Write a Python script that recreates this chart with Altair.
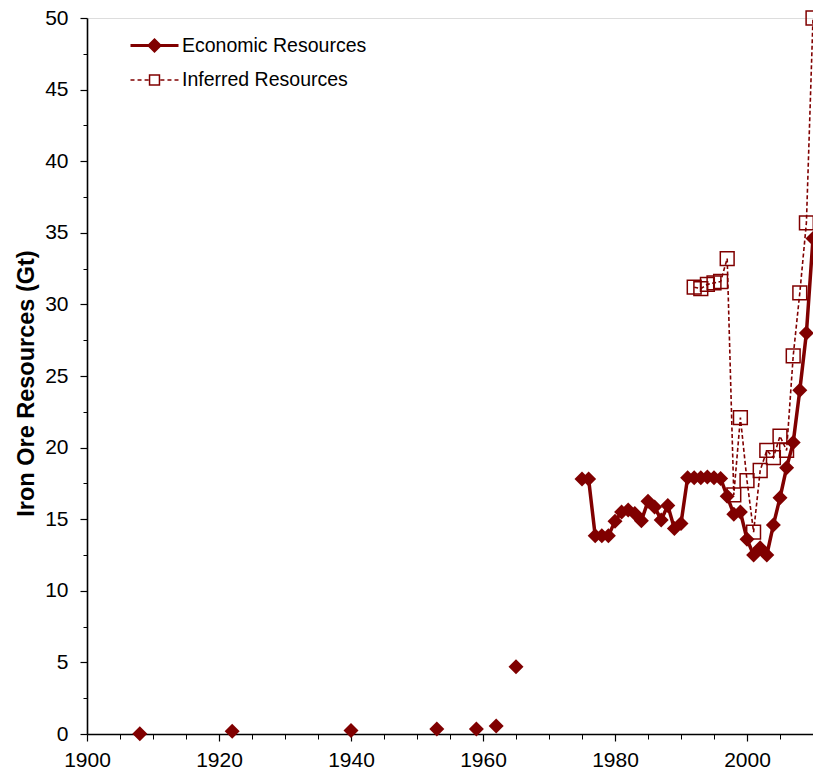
import altair as alt
import pandas as pd

# Economic resources (Gt)
econ_years = [1908, 1922, 1940, 1953, 1959, 1962, 1965,
              1975, 1976, 1977, 1978, 1979, 1980, 1981, 1982, 1983, 1984,
              1985, 1986, 1987, 1988, 1989, 1990, 1991, 1992, 1993, 1994,
              1995, 1996, 1997, 1998, 1999, 2000, 2001, 2002, 2003, 2004,
              2005, 2006, 2007, 2008, 2009, 2010]
econ_values = [0.02, 0.2, 0.25, 0.35, 0.35, 0.55, 4.7,
               17.8, 17.8, 13.85, 13.85, 13.85, 14.85, 15.5, 15.65, 15.4, 14.9,
               16.25, 15.85, 14.95, 15.95, 14.35, 14.7, 17.9, 17.9, 17.9, 17.95,
               17.9, 17.85, 16.6, 15.35, 15.5, 13.6, 12.5, 13.0, 12.5, 14.6,
               16.5, 18.6, 20.35, 24.0, 28.0, 34.6]

# Inferred resources (Gt)
inf_years = [1992, 1993, 1994, 1995, 1996, 1997, 1998, 1999, 2000, 2001,
             2002, 2003, 2004, 2005, 2006, 2007, 2008, 2009, 2010]
inf_values = [31.2, 31.1, 31.4, 31.5, 31.6, 33.2, 16.7, 22.1, 17.7, 14.1,
              18.4, 19.8, 19.3, 20.8, 19.8, 26.4, 30.8, 35.7, 50.0]

series_names = ["Economic Resources", "Inferred Resources"]

x_major = [1900, 1920, 1940, 1960, 1980, 2000]
x_minor = list(range(1905, 2011, 5))
y_major = [0, 5, 10, 15, 20, 25, 30, 35, 40, 45, 50]
y_minor = [2.5 + 5 * i for i in range(10)]

RED = "#800000"
FONT = "Liberation Sans"

econ = pd.DataFrame({"year": econ_years, "value": econ_values})
inf = pd.DataFrame({"year": inf_years, "value": inf_values})
legend_df = pd.DataFrame({"series": series_names, "year": [1900, 1900], "value": [0, 0]})

xs = alt.Scale(domain=[1900, 2010], nice=False, zero=False)
ys = alt.Scale(domain=[0, 50], nice=False)

major_x_axis = alt.Axis(values=x_major, title=None, grid=False, tickSize=7, tickWidth=1.2,
                        tickColor="black", domainColor="black", domainWidth=1.6,
                        labelFontSize=21, labelFont=FONT, labelColor="black",
                        labelPadding=8, format="d", orient="bottom", labelFlush=False)
major_y_axis = alt.Axis(values=y_major, title="Iron Ore Resources (Gt)", grid=False,
                        tickSize=7, tickWidth=1.2, tickColor="black",
                        domainColor="black", domainWidth=1.6,
                        labelFontSize=21, labelFont=FONT, labelColor="black",
                        labelPadding=12, orient="left",
                        titleFont=FONT, titleFontSize=23.5, titleFontWeight="bold",
                        titleColor="black", titleAngle=270, titleX=-61, titleY=365,
                        titleAlign="center", titleBaseline="middle")
minor_x_axis = alt.Axis(values=x_minor, title=None, grid=False, labels=False, domain=False,
                        tickSize=5, tickWidth=1, tickColor="black", orient="bottom")
minor_y_axis = alt.Axis(values=y_minor, title=None, grid=False, labels=False, domain=False,
                        tickSize=4, tickWidth=1, tickColor="black", orient="left")

econ_line = alt.Chart(econ).transform_filter("datum.year >= 1975").mark_line(
    color=RED, strokeWidth=3.5
).encode(
    x=alt.X("year:Q", scale=xs, axis=major_x_axis),
    y=alt.Y("value:Q", scale=ys, axis=major_y_axis),
)

inf_line = alt.Chart(inf).mark_line(
    color=RED, strokeWidth=1.6, strokeDash=[4, 2.5]
).encode(
    x=alt.X("year:Q", scale=xs, axis=None),
    y=alt.Y("value:Q", scale=ys, axis=None),
)

econ_pts = alt.Chart(econ).mark_point(
    shape="diamond", filled=True, color=RED, size=225, opacity=1
).encode(
    x=alt.X("year:Q", scale=xs, axis=None),
    y=alt.Y("value:Q", scale=ys, axis=None),
)

inf_pts = alt.Chart(inf).mark_point(
    shape="square", filled=False, color=RED, size=190, strokeWidth=1.5, opacity=1
).encode(
    x=alt.X("year:Q", scale=xs, axis=None),
    y=alt.Y("value:Q", scale=ys, axis=None),
)

econ_sym = "M-1.5,0H1.5M0,-0.34L0.34,0L0,0.34L-0.34,0Z"
inf_sym = ("M-1.5,0H-1.25M-1.06,0H-0.81M-0.62,0H-0.37"
           "M0.37,0H0.62M0.81,0H1.06M1.25,0H1.5"
           "M-0.31,-0.31H0.31V0.31H-0.31Z")

legend_layer = alt.Chart(legend_df).transform_filter("false").mark_point(size=1024).encode(
    x=alt.X("year:Q", scale=xs, axis=minor_x_axis),
    y=alt.Y("value:Q", scale=ys, axis=minor_y_axis),
    color=alt.Color("series:N", scale=alt.Scale(domain=series_names, range=[RED, RED]),
                    legend=alt.Legend(title=None, orient="none", legendX=50, legendY=10,
                                      labelFontSize=19.5, labelFont=FONT, labelColor="black",
                                      labelOffset=10, labelLimit=0, symbolSize=1024,
                                      rowPadding=6, padding=0, symbolOpacity=1)),
    fill=alt.Fill("series:N", scale=alt.Scale(domain=series_names, range=[RED, "transparent"])),
    shape=alt.Shape("series:N", scale=alt.Scale(domain=series_names, range=[econ_sym, inf_sym])),
    strokeWidth=alt.StrokeWidth("series:N", scale=alt.Scale(domain=series_names, range=[3, 1.5])),
)

chart = alt.layer(
    econ_line, inf_line, econ_pts, inf_pts, legend_layer
).resolve_axis(x="independent", y="independent").properties(
    width=726, height=716,
    autosize=alt.AutoSizeParams(type="none"),
    padding={"left": 87, "top": 18, "right": 0, "bottom": 39},
).configure_view(
    stroke="black", strokeWidth=1.6
).configure(background="white")

chart.save("out.html", embed_options={"renderer": "svg", "actions": False})
